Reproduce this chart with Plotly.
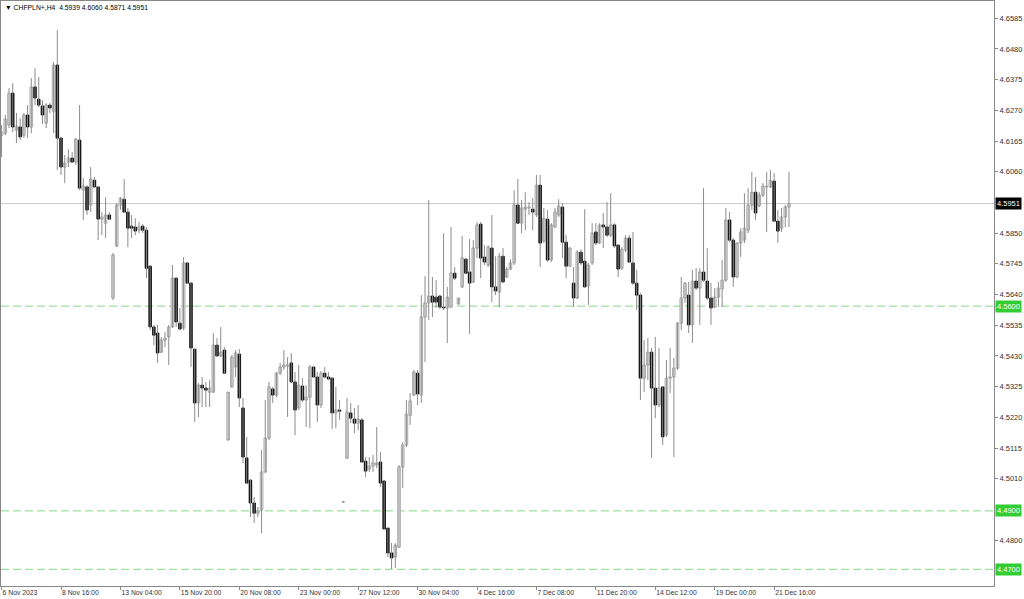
import plotly.graph_objects as go

symbol = "CHFPLN+,H4"

opens = [4.6185,4.6192,4.6220,4.6329,4.6202,4.6213,4.6185,4.6254,4.6213,4.6350,
4.6308,4.6285,4.6226,4.6288,4.6267,4.6425,4.6175,4.6076,4.6093,4.6107,
4.6093,4.6168,4.5997,4.6008,4.5946,4.6031,4.6008,4.5898,4.5884,4.5912,
4.5628,4.5806,4.5946,4.5966,4.5922,4.5874,4.5871,4.5860,4.5874,4.5860,
4.5737,4.5529,4.5508,4.5443,4.5484,4.5495,4.5529,4.5696,4.5542,4.5525,
4.5748,4.5679,4.5453,4.5269,4.5330,4.5320,4.5306,4.5306,4.5467,4.5430,
4.5450,4.5142,4.5324,4.5392,4.5436,4.5252,4.5081,4.5005,4.4927,4.4892,
4.4903,4.5033,4.5149,4.5317,4.5296,4.5371,4.5392,4.5395,4.5406,4.5341,
4.5252,4.5327,4.5279,4.5289,4.5392,4.5358,4.5262,4.5371,4.5358,4.5354,
4.5235,4.5245,4.4930,4.5081,4.5235,4.5214,4.5200,4.5211,4.5070,4.5043,
4.5053,4.5057,4.5067,4.5002,4.4841,4.4756,4.4742,4.4776,4.5050,4.5125,
4.5227,4.5296,4.5371,4.5296,4.5563,4.5611,4.5635,4.5631,4.5635,4.5597,
4.5594,4.5597,4.5713,4.5607,4.5666,4.5761,4.5717,4.5683,4.5799,4.5881,
4.5768,4.5741,4.5799,4.5666,4.5648,4.5771,4.5700,4.5727,4.5748,4.5946,
4.5884,4.5932,4.5936,4.5932,4.5912,4.6014,4.5823,4.5898,4.5758,4.5871,
4.5912,4.5939,4.5819,4.5737,4.5679,4.5628,4.5785,4.5754,4.5669,4.5748,
4.5854,4.5816,4.5878,4.5871,4.5843,4.5878,4.5809,4.5730,4.5792,4.5833,
4.5748,4.5679,4.5638,4.5354,4.5399,4.5443,4.5320,4.5262,4.5324,4.5159,
4.5354,4.5358,4.5388,4.5542,4.5628,4.5638,4.5536,4.5686,4.5662,4.5717,
4.5686,4.5628,4.5597,4.5631,4.5659,4.5689,4.5895,4.5826,4.5700,4.5816,
4.5826,4.5860,4.5946,4.5990,4.5943,4.5980,4.6008,4.6008,4.6028,4.5891,
4.5867,4.5905,4.5939]

highs = [4.6220,4.6254,4.6346,4.6363,4.6261,4.6243,4.6261,4.6288,4.6380,4.6414,
4.6384,4.6305,4.6295,4.6295,4.6435,4.6544,4.6179,4.6117,4.6137,4.6127,
4.6175,4.6288,4.6038,4.6014,4.6076,4.6042,4.6011,4.5922,4.5973,4.5922,
4.5782,4.5953,4.5973,4.6035,4.5936,4.5912,4.5901,4.5888,4.5881,4.5871,
4.5741,4.5536,4.5536,4.5495,4.5512,4.5536,4.5741,4.5700,4.5594,4.5768,
4.5751,4.5683,4.5457,4.5337,4.5358,4.5341,4.5347,4.5508,4.5491,4.5529,
4.5460,4.5306,4.5433,4.5450,4.5453,4.5286,4.5153,4.5009,4.4947,4.4913,
4.5108,4.5279,4.5341,4.5324,4.5375,4.5406,4.5450,4.5426,4.5440,4.5375,
4.5399,4.5354,4.5330,4.5399,4.5395,4.5375,4.5378,4.5392,4.5375,4.5358,
4.5324,4.5279,4.4934,4.5286,4.5269,4.5252,4.5262,4.5217,4.5084,4.5084,
4.5091,4.5187,4.5101,4.5005,4.4841,4.4790,4.4790,4.5057,4.5135,4.5279,
4.5303,4.5382,4.5382,4.5638,4.5703,4.5963,4.5700,4.5689,4.5638,4.5850,
4.5666,4.5871,4.5734,4.5628,4.5840,4.5765,4.5830,4.5826,4.5888,4.5888,
4.5809,4.5809,4.5912,4.5771,4.5782,4.5799,4.5734,4.5761,4.5997,4.6035,
4.5963,4.5990,4.5956,4.5970,4.6049,4.6049,4.5936,4.5929,4.5884,4.5936,
4.5966,4.5953,4.5843,4.5802,4.5734,4.5792,4.5795,4.5932,4.5748,4.5884,
4.5884,4.5884,4.5919,4.5956,4.5987,4.5884,4.5813,4.5802,4.5843,4.5843,
4.5854,4.5724,4.5645,4.5484,4.5491,4.5457,4.5495,4.5457,4.5327,4.5416,
4.5457,4.5423,4.5546,4.5700,4.5683,4.5683,4.5724,4.5730,4.5730,4.6004,
4.5799,4.5679,4.5662,4.5683,4.5758,4.5936,4.5922,4.5833,4.5819,4.5867,
4.5987,4.6004,4.6059,4.6042,4.5990,4.6021,4.6059,4.6066,4.6055,4.5929,
4.5936,4.5946,4.6060]

lows = [4.6110,4.6185,4.6209,4.6196,4.6158,4.6168,4.6175,4.6175,4.6192,4.6288,
4.6281,4.6223,4.6209,4.6261,4.6192,4.6066,4.6049,4.6021,4.6076,4.6090,
4.6083,4.5997,4.5895,4.5912,4.5922,4.6004,4.5826,4.5843,4.5833,4.5895,
4.5621,4.5802,4.5929,4.5919,4.5802,4.5833,4.5843,4.5850,4.5850,4.5696,
4.5518,4.5467,4.5406,4.5440,4.5460,4.5399,4.5525,4.5529,4.5518,4.5518,
4.5676,4.5392,4.5204,4.5221,4.5255,4.5255,4.5255,4.5303,4.5426,4.5426,
4.5371,4.5142,4.5320,4.5358,4.5255,4.5064,4.4992,4.4879,4.4858,4.4879,
4.4824,4.5029,4.5142,4.5269,4.5289,4.5365,4.5382,4.5221,4.5337,4.5159,
4.5245,4.5272,4.5187,4.5183,4.5354,4.5204,4.5252,4.5354,4.5347,4.5180,
4.5183,4.5211,4.4927,4.5077,4.5200,4.5166,4.5176,4.5067,4.5016,4.5033,
4.5033,4.5046,4.4982,4.4834,4.4742,4.4701,4.4704,4.4773,4.4978,4.5118,
4.5194,4.5293,4.5262,4.5269,4.5409,4.5553,4.5563,4.5594,4.5590,4.5587,
4.5474,4.5594,4.5689,4.5607,4.5662,4.5713,4.5505,4.5679,4.5765,4.5696,
4.5741,4.5734,4.5614,4.5638,4.5597,4.5679,4.5696,4.5724,4.5741,4.5884,
4.5850,4.5860,4.5912,4.5860,4.5905,4.5734,4.5816,4.5751,4.5751,4.5867,
4.5905,4.5765,4.5696,4.5734,4.5597,4.5624,4.5741,4.5662,4.5604,4.5741,
4.5809,4.5813,4.5799,4.5836,4.5836,4.5799,4.5700,4.5724,4.5785,4.5748,
4.5672,4.5587,4.5279,4.5306,4.5347,4.5081,4.5217,4.5255,4.5125,4.5153,
4.5303,4.5084,4.5382,4.5518,4.5611,4.5508,4.5474,4.5655,4.5536,4.5683,
4.5621,4.5536,4.5594,4.5597,4.5597,4.5683,4.5819,4.5666,4.5696,4.5768,
4.5816,4.5850,4.5929,4.5895,4.5939,4.5973,4.5854,4.6004,4.5888,4.5816,
4.5854,4.5871,4.5871]

closes = [4.6196,4.6240,4.6329,4.6213,4.6216,4.6179,4.6254,4.6213,4.6350,4.6312,
4.6288,4.6254,4.6288,4.6278,4.6425,4.6175,4.6076,4.6090,4.6107,4.6093,
4.6172,4.6004,4.6011,4.5929,4.6035,4.6008,4.5898,4.5905,4.5912,4.5898,
4.5775,4.5946,4.5970,4.5922,4.5867,4.5867,4.5857,4.5871,4.5860,4.5730,
4.5529,4.5501,4.5440,4.5484,4.5491,4.5529,4.5696,4.5546,4.5522,4.5748,
4.5679,4.5457,4.5269,4.5330,4.5320,4.5313,4.5320,4.5467,4.5430,4.5443,
4.5371,4.5306,4.5426,4.5440,4.5286,4.5084,4.4995,4.4927,4.4892,4.4899,
4.5033,4.5149,4.5324,4.5296,4.5371,4.5392,4.5399,4.5399,4.5341,4.5245,
4.5330,4.5279,4.5289,4.5392,4.5358,4.5262,4.5371,4.5358,4.5351,4.5235,
4.5245,4.5241,4.4931,4.5238,4.5217,4.5200,4.5214,4.5067,4.5036,4.5053,
4.5064,4.5064,4.4995,4.4838,4.4756,4.4739,4.4783,4.5050,4.5125,4.5231,
4.5276,4.5375,4.5300,4.5563,4.5611,4.5635,4.5614,4.5614,4.5597,4.5594,
4.5631,4.5713,4.5696,4.5628,4.5765,4.5713,4.5679,4.5799,4.5878,4.5765,
4.5751,4.5802,4.5666,4.5652,4.5771,4.5683,4.5727,4.5748,4.5946,4.5884,
4.5936,4.5939,4.5939,4.5922,4.6014,4.5816,4.5901,4.5758,4.5878,4.5922,
4.5943,4.5819,4.5737,4.5799,4.5628,4.5785,4.5748,4.5666,4.5741,4.5850,
4.5816,4.5878,4.5871,4.5843,4.5878,4.5806,4.5727,4.5795,4.5833,4.5751,
4.5679,4.5638,4.5354,4.5399,4.5443,4.5320,4.5262,4.5320,4.5153,4.5354,
4.5358,4.5388,4.5542,4.5628,4.5679,4.5536,4.5686,4.5662,4.5717,4.5689,
4.5628,4.5594,4.5631,4.5662,4.5689,4.5895,4.5826,4.5700,4.5816,4.5854,
4.5867,4.5946,4.5990,4.5919,4.5980,4.6011,4.6011,4.6031,4.5891,4.5857,
4.5905,4.5939,4.5951]

time_labels = ["6 Nov 2023", "8 Nov 16:00", "13 Nov 04:00", "15 Nov 20:00",
               "20 Nov 08:00", "23 Nov 00:00", "27 Nov 12:00", "30 Nov 04:00",
               "4 Dec 16:00", "7 Dec 08:00", "11 Dec 20:00", "14 Dec 12:00",
               "19 Dec 00:00", "21 Dec 16:00"]
label_every = 16

price_ticks = [4.6585, 4.6480, 4.6375, 4.6270, 4.6165, 4.6060, 4.5850, 4.5745,
               4.5640, 4.5535, 4.5430, 4.5325, 4.5220, 4.5115, 4.5010, 4.4800]
levels = [4.5600, 4.4900, 4.4700]

n = len(closes)
idx = list(range(n))

FONT = "Liberation Sans"
WICK = "#8c8c8c"
OUTLINE = "#a8a8a8"

# wicks
wx, wy = [], []
for i in idx:
    wx += [i, i, None]
    wy += [lows[i], highs[i], None]

bull = [i for i in idx if closes[i] >= opens[i]]
bear = [i for i in idx if closes[i] < opens[i]]

fig = go.Figure()
fig.add_trace(go.Scatter(x=wx, y=wy, mode="lines",
                         line=dict(color=WICK, width=1), hoverinfo="skip"))
fig.add_trace(go.Bar(x=bull, base=[opens[i] for i in bull],
                     y=[closes[i] - opens[i] for i in bull], width=0.7,
                     marker=dict(color="white", line=dict(color=OUTLINE, width=1))))
fig.add_trace(go.Bar(x=bear, base=[closes[i] for i in bear],
                     y=[opens[i] - closes[i] for i in bear], width=0.7,
                     marker=dict(color="black", line=dict(color="black", width=0.8))))

shapes = []
for lv in levels:
    shapes.append(dict(type="line", xref="paper", x0=0, x1=1, yref="y", y0=lv, y1=lv,
                       line=dict(color="#9ee29e", width=1.3, dash="8px,4px"), layer="below"))
shapes.append(dict(type="line", xref="paper", x0=0, x1=1, yref="y",
                   y0=closes[-1], y1=closes[-1],
                   line=dict(color="#c8c8c8", width=1), layer="below"))

annotations = []
for lv in levels:
    annotations.append(dict(xref="paper", x=1, xanchor="left", xshift=1,
                            yref="y", y=lv, yanchor="middle", text=f"{lv:.4f}",
                            showarrow=False, bgcolor="#32cd32", borderpad=1,
                            font=dict(family=FONT, size=7.5, color="white")))
annotations.append(dict(xref="paper", x=1, xanchor="left", xshift=1,
                        yref="y", y=closes[-1], yanchor="middle", text=f"{closes[-1]:.4f}",
                        showarrow=False, bgcolor="black", borderpad=1,
                        font=dict(family=FONT, size=7.5, color="white")))
annotations.append(dict(xref="paper", x=0, xanchor="left", xshift=2,
                        yref="paper", y=1, yanchor="top", yshift=-1,
                        text=f"▼ {symbol}  {opens[-1]:.4f} {highs[-1]:.4f} {lows[-1]:.4f} {closes[-1]:.4f}",
                        showarrow=False,
                        font=dict(family=FONT, size=6.8, color="black")))

fig.update_layout(
    width=1024, height=599,
    margin=dict(l=1, r=30, t=1, b=13),
    paper_bgcolor="white", plot_bgcolor="white",
    showlegend=False, barmode="overlay",
    shapes=shapes, annotations=annotations,
    xaxis=dict(range=[-0.16, 267.2], tickvals=[k * label_every for k in range(len(time_labels))],
               ticktext=time_labels, ticks="outside", ticklen=3, tickcolor="#888888",
               ticklabelposition="outside right",
               tickfont=dict(family=FONT, size=6.8, color="#333333"),
               showgrid=False, zeroline=False, showline=True, linecolor="#888888",
               linewidth=1, mirror=True, automargin=False, fixedrange=True),
    yaxis=dict(range=[4.4643, 4.6644], side="right", tickvals=price_ticks,
               ticktext=[f"{p:.4f}" for p in price_ticks], ticks="outside", ticklen=3,
               tickcolor="#888888", tickfont=dict(family=FONT, size=7.5, color="#333333"),
               showgrid=False, zeroline=False, showline=True, linecolor="#888888",
               linewidth=1, mirror=True, automargin=False, fixedrange=True),
)

fig.write_html("out.html", config={"displayModeBar": False},
               post_script="document.body.style.margin='0';document.body.style.overflow='hidden';")
